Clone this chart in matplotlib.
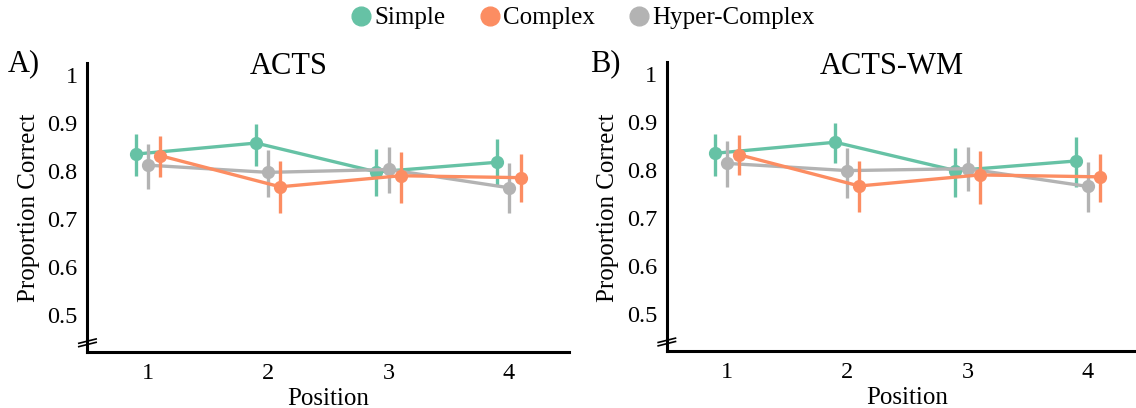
import matplotlib
matplotlib.use('Agg')
import matplotlib.pyplot as plt
from matplotlib.lines import Line2D

plt.rcParams['font.family'] = ['Liberation Serif', 'DejaVu Serif']

positions = [1, 2, 3, 4]
conditions = ['Simple', 'Complex', 'Hyper-Complex']
colors = {'Simple': '#66c2a5', 'Complex': '#fc8d62', 'Hyper-Complex': '#b3b3b3'}
offsets = {'Simple': -0.1, 'Hyper-Complex': 0.0, 'Complex': 0.1}
draw_order = ['Simple', 'Hyper-Complex', 'Complex']

# panel A - ACTS
acts_mean = {'Simple': [0.835, 0.858, 0.798, 0.818],
             'Complex': [0.832, 0.767, 0.790, 0.786],
             'Hyper-Complex': [0.812, 0.797, 0.803, 0.765]}
acts_lo = {'Simple': [0.789, 0.810, 0.748, 0.771],
           'Complex': [0.788, 0.713, 0.734, 0.736],
           'Hyper-Complex': [0.763, 0.745, 0.755, 0.712]}
acts_hi = {'Simple': [0.877, 0.897, 0.845, 0.867],
           'Complex': [0.873, 0.821, 0.840, 0.835],
           'Hyper-Complex': [0.855, 0.844, 0.849, 0.817]}

# panel B - ACTS-WM
wm_mean = {'Simple': [0.835, 0.858, 0.799, 0.819],
           'Complex': [0.832, 0.767, 0.790, 0.786],
           'Hyper-Complex': [0.814, 0.799, 0.803, 0.766]}
wm_lo = {'Simple': [0.788, 0.814, 0.745, 0.764],
         'Complex': [0.789, 0.713, 0.729, 0.733],
         'Hyper-Complex': [0.765, 0.743, 0.756, 0.712]}
wm_hi = {'Simple': [0.876, 0.899, 0.847, 0.869],
         'Complex': [0.874, 0.819, 0.840, 0.833],
         'Hyper-Complex': [0.861, 0.847, 0.849, 0.816]}

y_ticks = [0.5, 0.6, 0.7, 0.8, 0.9, 1.0]
y_ticklabels = ['0.5', '0.6', '0.7', '0.8', '0.9', '1']


def draw_panel(ax, mean, lo, hi):
    for c in draw_order:
        xs = [p + offsets[c] for p in positions]
        ax.plot(xs, mean[c], color=colors[c], lw=2.4, marker='o', ms=8.5, zorder=3)
        for x, l, h in zip(xs, lo[c], hi[c]):
            ax.plot([x, x], [l, h], color=colors[c], lw=2.4, solid_capstyle='butt', zorder=3)
    ax.set_xlim(0.5, 4.5)
    ax.set_ylim(0.424, 1.024)
    ax.set_xticks(positions)
    ax.set_xticklabels([str(p) for p in positions])
    ax.set_yticks(y_ticks)
    ax.set_yticklabels(y_ticklabels)
    ax.tick_params(length=0, labelsize=17.5)
    ax.tick_params(axis='y', pad=7)
    ax.tick_params(axis='x', pad=8)
    for s in ['top', 'right']:
        ax.spines[s].set_visible(False)
    for s in ['left', 'bottom']:
        ax.spines[s].set_linewidth(2.2)
        ax.spines[s].set_color('black')
    ax.set_xlabel('Position', fontsize=18, labelpad=3)
    # axis break marks
    tr = ax.get_yaxis_transform()
    for yb in [0.446, 0.439]:
        ax.plot([-0.018, 0.018], [yb - 0.0045, yb + 0.0045], color='black', lw=1.2,
                transform=tr, clip_on=False, zorder=5)


fig = plt.figure(figsize=(11.36, 4.08), dpi=100)
ax1 = fig.add_axes([0.077, 0.138, 0.424, 0.707])
ax2 = fig.add_axes([0.587, 0.140, 0.4235, 0.707])

draw_panel(ax1, acts_mean, acts_lo, acts_hi)
draw_panel(ax2, wm_mean, wm_lo, wm_hi)

fig.text(0.254, 0.819, 'ACTS', fontsize=22, ha='center', va='baseline')
fig.text(0.785, 0.819, 'ACTS-WM', fontsize=22, ha='center', va='baseline')
fig.text(0.007, 0.825, 'A)', fontsize=22, ha='left', va='baseline')
fig.text(0.519, 0.825, 'B)', fontsize=22, ha='left', va='baseline')
fig.text(29 / 1136, 1 - 208 / 408, 'Proportion Correct', fontsize=18, rotation=90,
         ha='center', va='center')
fig.text(608 / 1136, 1 - 208 / 408, 'Proportion Correct', fontsize=18, rotation=90,
         ha='center', va='center')

handles = [Line2D([], [], color=colors[c], marker='o', linestyle='', markersize=13.5)
           for c in conditions]
fig.legend(handles, conditions, loc='center', bbox_to_anchor=(0.512, 1 - 18 / 408),
           ncol=3, frameon=False, fontsize=18, handletextpad=0.0, columnspacing=1.3,
           handlelength=1.0, borderpad=0)

fig.savefig('out.png', dpi=100)
